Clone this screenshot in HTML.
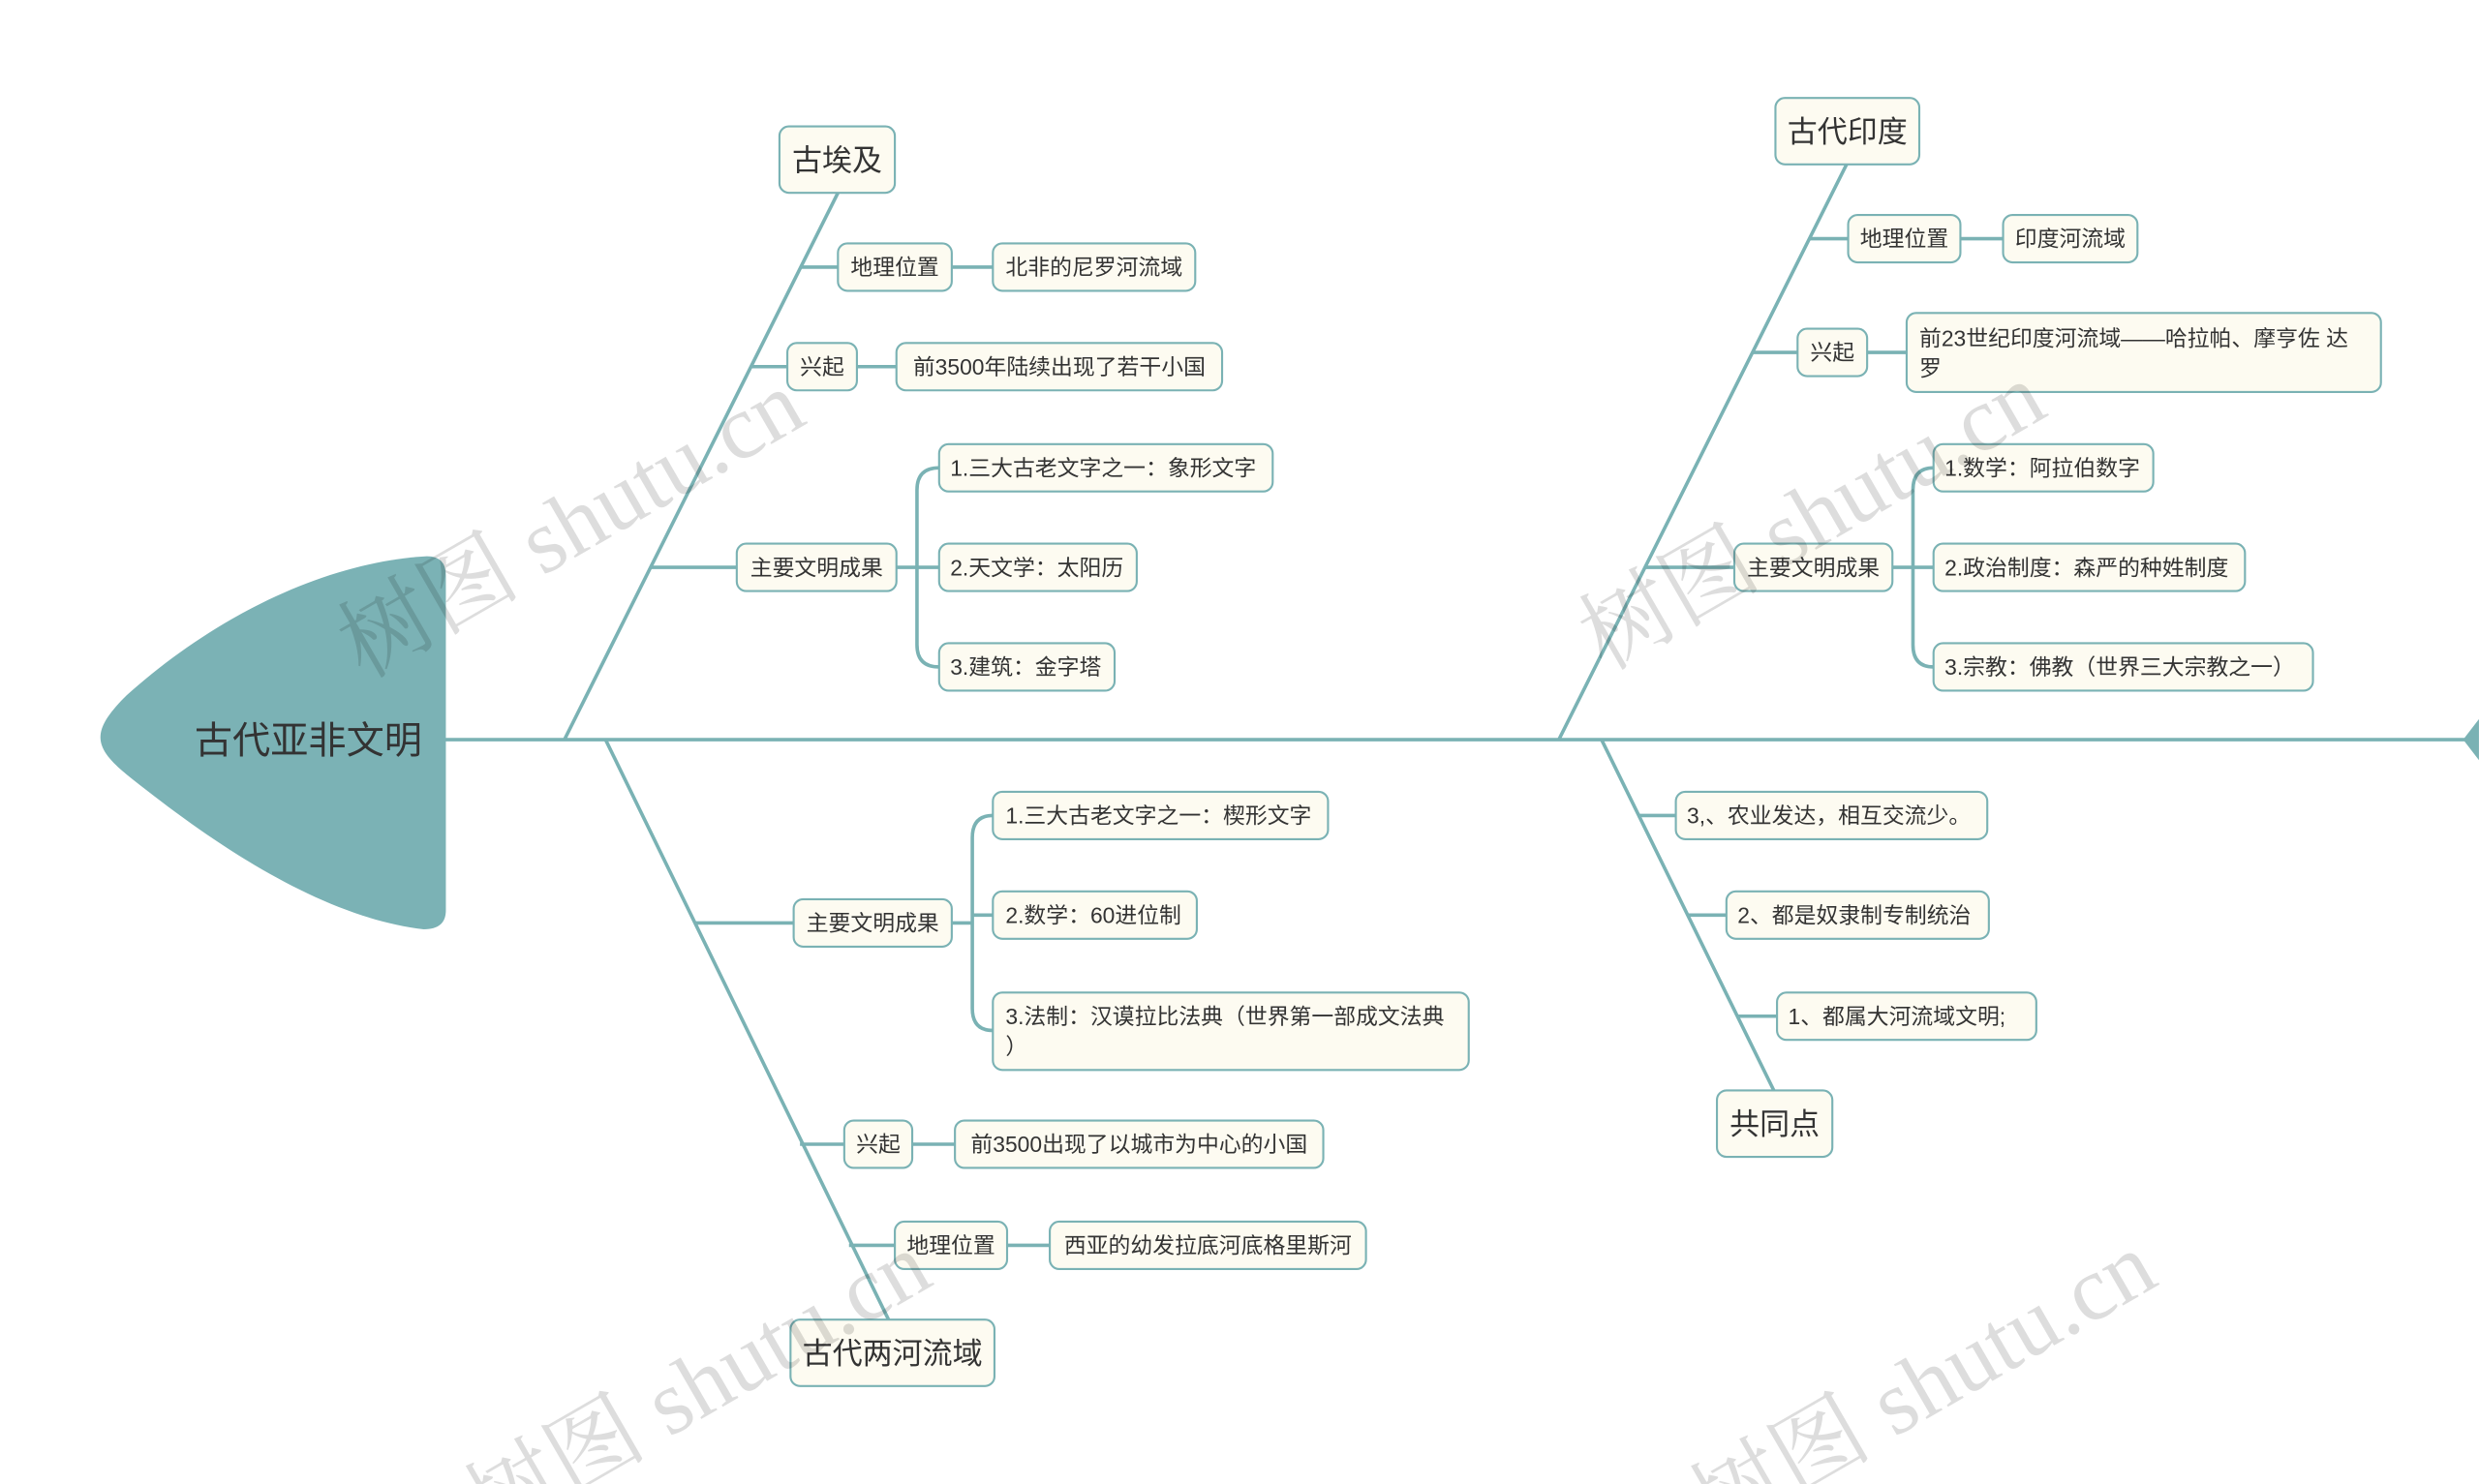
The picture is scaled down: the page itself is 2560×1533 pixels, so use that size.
<!DOCTYPE html>
<html><head><meta charset="utf-8"><style>
html,body{margin:0;padding:0;background:#fff;width:2560px;height:1533px;overflow:hidden;}
svg{display:block;overflow:hidden}
text{font-family:"Liberation Sans","Noto Sans CJK SC",sans-serif;fill:#333;}
.b{fill:#fdfbf1;stroke:#7ab2b4;stroke-width:1.3}
.l{stroke:#7ab2b4;stroke-width:2.2;fill:none}
.s{font-size:14px}
.m{font-size:19px}
.w{font-family:"Liberation Serif","Noto Serif CJK SC",serif;font-size:58px;fill:#000;opacity:0.13}
</style></head><body>
<svg width="2560" height="1533" viewBox="0 0 1568 939" xmlns="http://www.w3.org/2000/svg">
<line class="l" x1="280" y1="468" x2="1562" y2="468" stroke-width="2.6"/>
<path d="M1568,455 L1558,468 L1568,481 Z" fill="#7ab2b4"/>
<path d="M270,352 Q282,352 282,364 L282,576 Q282,588 268,588 C200,580 130,530 80,490 C58,472 58,462 80,440 C130,395 200,356 270,352 Z" fill="#7bb2b5"/>
<text x="195" y="477" text-anchor="middle" style="font-size:24px">古代亚非文明</text>

<line class="l" x1="357" y1="468" x2="530" y2="122"/>
<line class="l" x1="506" y1="169" x2="530" y2="169"/>
<line class="l" x1="602" y1="169" x2="628" y2="169"/>
<line class="l" x1="475" y1="232" x2="498" y2="232"/>
<line class="l" x1="542" y1="232" x2="567" y2="232"/>
<line class="l" x1="411" y1="359" x2="466" y2="359"/>
<line class="l" x1="567" y1="359" x2="594" y2="359"/>
<path class="l" d="M594,296 Q580,296 580,310 L580,408 Q580,422 594,422"/>
<rect class="b" x="493" y="80" width="73" height="42" rx="6"/><text class="m" x="529.5" y="108" text-anchor="middle">古埃及</text>
<rect class="b" x="530" y="154" width="72" height="30" rx="6"/><text class="s" x="566" y="174" text-anchor="middle">地理位置</text>
<rect class="b" x="628" y="154" width="128" height="30" rx="6"/><text class="s" x="692" y="174" text-anchor="middle">北非的尼罗河流域</text>
<rect class="b" x="498" y="217" width="44" height="30" rx="6"/><text class="s" x="520" y="237" text-anchor="middle">兴起</text>
<rect class="b" x="567" y="217" width="206" height="30" rx="6"/><text class="s" x="670" y="237" text-anchor="middle">前3500年陆续出现了若干小国</text>
<rect class="b" x="466" y="344" width="101" height="30" rx="6"/><text class="s" x="516.5" y="364" text-anchor="middle">主要文明成果</text>
<rect class="b" x="594" y="281" width="211" height="30" rx="6"/><text class="s" x="601" y="301">1.三大古老文字之一：象形文字</text>
<rect class="b" x="594" y="344" width="125" height="30" rx="6"/><text class="s" x="601" y="364">2.天文学：太阳历</text>
<rect class="b" x="594" y="407" width="111" height="30" rx="6"/><text class="s" x="601" y="427">3.建筑：金字塔</text>

<line class="l" x1="986" y1="468" x2="1168" y2="104"/>
<line class="l" x1="1144" y1="151" x2="1169" y2="151"/>
<line class="l" x1="1240" y1="151" x2="1267" y2="151"/>
<line class="l" x1="1108" y1="223" x2="1137" y2="223"/>
<line class="l" x1="1181" y1="223" x2="1206" y2="223"/>
<line class="l" x1="1040" y1="359" x2="1097" y2="359"/>
<line class="l" x1="1197" y1="359" x2="1223" y2="359"/>
<path class="l" d="M1223,296 Q1210,296 1210,310 L1210,408 Q1210,422 1223,422"/>
<rect class="b" x="1123" y="62" width="91" height="42" rx="6"/><text class="m" x="1168.5" y="90" text-anchor="middle">古代印度</text>
<rect class="b" x="1169" y="136" width="71" height="30" rx="6"/><text class="s" x="1204.5" y="156" text-anchor="middle">地理位置</text>
<rect class="b" x="1267" y="136" width="85" height="30" rx="6"/><text class="s" x="1309.5" y="156" text-anchor="middle">印度河流域</text>
<rect class="b" x="1137" y="208" width="44" height="30" rx="6"/><text class="s" x="1159" y="228" text-anchor="middle">兴起</text>
<rect class="b" x="1206" y="198" width="300" height="50" rx="6"/><text class="s" x="1214" y="219">前23世纪印度河流域——哈拉帕、摩亨佐 达</text><text class="s" x="1214" y="238">罗</text>
<rect class="b" x="1097" y="344" width="100" height="30" rx="6"/><text class="s" x="1147" y="364" text-anchor="middle">主要文明成果</text>
<rect class="b" x="1223" y="281" width="139" height="30" rx="6"/><text class="s" x="1230" y="301">1.数学：阿拉伯数字</text>
<rect class="b" x="1223" y="344" width="197" height="30" rx="6"/><text class="s" x="1230" y="364">2.政治制度：森严的种姓制度</text>
<rect class="b" x="1223" y="407" width="240" height="30" rx="6"/><text class="s" x="1230" y="427">3.宗教：佛教（世界三大宗教之一）</text>

<line class="l" x1="383" y1="468" x2="562" y2="835"/>
<line class="l" x1="439" y1="584" x2="502" y2="584"/>
<line class="l" x1="602" y1="584" x2="615" y2="584"/>
<path class="l" d="M628,516 Q615,516 615,530 L615,638 Q615,652 628,652"/>
<line class="l" x1="615" y1="579" x2="628" y2="579"/>
<line class="l" x1="506" y1="724" x2="534" y2="724"/>
<line class="l" x1="577" y1="724" x2="604" y2="724"/>
<line class="l" x1="537" y1="788" x2="566" y2="788"/>
<line class="l" x1="637" y1="788" x2="664" y2="788"/>
<rect class="b" x="502" y="569" width="100" height="30" rx="6"/><text class="s" x="552" y="589" text-anchor="middle">主要文明成果</text>
<rect class="b" x="628" y="501" width="212" height="30" rx="6"/><text class="s" x="636" y="521">1.三大古老文字之一：楔形文字</text>
<rect class="b" x="628" y="564" width="129" height="30" rx="6"/><text class="s" x="636" y="584">2.数学：60进位制</text>
<rect class="b" x="628" y="628" width="301" height="49" rx="6"/><text class="s" x="636" y="648">3.法制：汉谟拉比法典（世界第一部成文法典</text><text class="s" x="636" y="667">）</text>
<rect class="b" x="534" y="709" width="43" height="30" rx="6"/><text class="s" x="555.5" y="729" text-anchor="middle">兴起</text>
<rect class="b" x="604" y="709" width="233" height="30" rx="6"/><text class="s" x="720.5" y="729" text-anchor="middle">前3500出现了以城市为中心的小国</text>
<rect class="b" x="566" y="773" width="71" height="30" rx="6"/><text class="s" x="601.5" y="793" text-anchor="middle">地理位置</text>
<rect class="b" x="664" y="773" width="200" height="30" rx="6"/><text class="s" x="764" y="793" text-anchor="middle">西亚的幼发拉底河底格里斯河</text>
<rect class="b" x="500" y="835" width="129" height="42" rx="6"/><text class="m" x="564.5" y="863" text-anchor="middle">古代两河流域</text>

<line class="l" x1="1013" y1="468" x2="1122" y2="690"/>
<line class="l" x1="1036" y1="516" x2="1060" y2="516"/>
<line class="l" x1="1067" y1="579" x2="1092" y2="579"/>
<line class="l" x1="1099" y1="643" x2="1124" y2="643"/>
<rect class="b" x="1060" y="501" width="197" height="30" rx="6"/><text class="s" x="1067" y="521">3,、农业发达，相互交流少。</text>
<rect class="b" x="1092" y="564" width="166" height="30" rx="6"/><text class="s" x="1099" y="584">2、都是奴隶制专制统治</text>
<rect class="b" x="1124" y="628" width="164" height="30" rx="6"/><text class="s" x="1131" y="648">1、都属大河流域文明;</text>
<rect class="b" x="1086" y="690" width="73" height="42" rx="6"/><text class="m" x="1122.5" y="718" text-anchor="middle">共同点</text>

<text class="w" transform="translate(230,430) rotate(-30)">树图 shutu.cn</text>
<text class="w" transform="translate(1015,425) rotate(-30)">树图 shutu.cn</text>
<text class="w" transform="translate(310,975) rotate(-30)">树图 shutu.cn</text>
<text class="w" transform="translate(1085,975) rotate(-30)">树图 shutu.cn</text>
</svg>
</body></html>
